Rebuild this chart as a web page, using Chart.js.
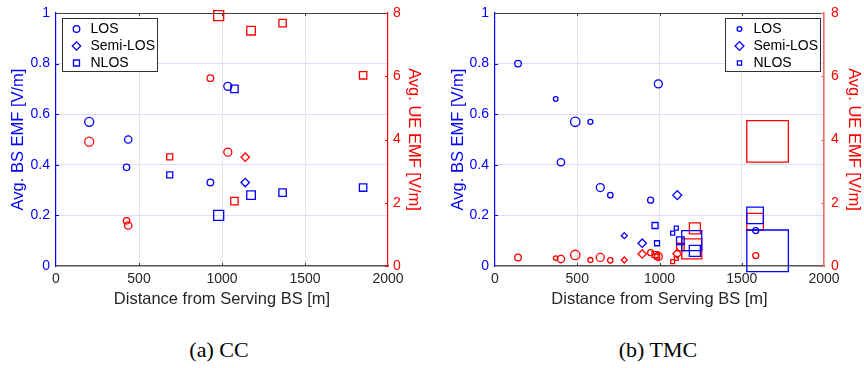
<!DOCTYPE html>
<html>
<head>
<meta charset="utf-8">
<script src="https://cdn.jsdelivr.net/npm/chart.js@4.4.0/dist/chart.umd.min.js"></script>
<style>
  body { margin: 0; background: #fff; width: 864px; height: 368px; position: relative; overflow: hidden; }
  .panel { position: absolute; top: 0; width: 432px; height: 320px; }
  .cap { position: absolute; top: 337px; width: 432px; line-height: 26px; text-align: center;
         font-family: "Liberation Serif", serif; font-size: 22px; color: #000; }
</style>
</head>
<body>
<div class="panel" style="left:0"><canvas id="cc"></canvas></div>
<div class="panel" style="left:432px"><canvas id="tmc"></canvas></div>
<div class="cap" style="left:3px">(a) CC</div>
<div class="cap" style="left:442px">(b) TMC</div>
<script>
const categories = ['LOS', 'Semi-LOS', 'NLOS'];
const xTicks = [0, 500, 1000, 1500, 2000];
const bsTicks = [0, 0.2, 0.4, 0.6, 0.8, 1];
const ueTicks = [0, 2, 4, 6, 8];

// (a) CC - distance [m], BS EMF [V/m], UE EMF [V/m], marker weight
const ccLosDist = [200, 425, 435, 930, 1035];
const ccLosBs = [0.57, 0.39, 0.50, 0.33, 0.71];
const ccLosUe = [3.93, 1.43, 1.28, 5.94, 3.60];
const ccLosW = [4.5, 3.2, 3.7, 3.3, 4.0];

const ccSemiDist = [1140];
const ccSemiBs = [0.33];
const ccSemiUe = [3.44];
const ccSemiW = [3.5];

const ccNlosDist = [685, 980, 1075, 1175, 1365, 1850];
const ccNlosBs = [0.36, 0.20, 0.70, 0.28, 0.29, 0.31];
const ccNlosUe = [3.45, 7.92, 2.05, 7.44, 7.68, 6.03];
const ccNlosW = [3.0, 5.0, 3.7, 4.3, 3.7, 3.7];

// (b) TMC
const tmcLosDist = [140, 369, 401, 488, 580, 640, 701, 946, 993, 1585];
const tmcLosBs = [0.80, 0.66, 0.41, 0.57, 0.57, 0.31, 0.28, 0.26, 0.72, 0.14];
const tmcLosUe = [0.27, 0.25, 0.22, 0.35, 0.19, 0.27, 0.18, 0.42, 0.30, 0.33];
const tmcLosW = [3.3, 2.3, 3.7, 4.7, 2.5, 4.0, 2.7, 3.0, 4.0, 3.0];

const tmcSemiDist = [786, 895, 1108];
const tmcSemiBs = [0.12, 0.09, 0.28];
const tmcSemiUe = [0.19, 0.38, 0.39];
const tmcSemiW = [2.5, 3.5, 3.7];

const tmcNlosDist = [973, 985, 1080, 1102, 1127, 1196, 1215, 1581, 1657];
const tmcNlosBs = [0.16, 0.09, 0.13, 0.15, 0.10, 0.10, 0.06, 0.20, 0.06];
const tmcNlosUe = [0.36, 0.30, 0.14, 0.24, 0.60, 0.54, 1.19, 1.40, 3.94];
const tmcNlosW = [3.0, 2.5, 2.0, 2.0, 3.8, 10.0, 5.5, 8.3, 20.8];

const BLUE = '#0000ff';
const RED = '#ff0000';
const FONT = 'Liberation Sans';
const styles = ['circle', 'rectRot', 'rect'];

function markerRadius(style, w) {
  if (style === 'rect') return w / Math.SQRT1_2;
  if (style === 'rectRot') return w * 1.2;
  return w;
}

function series(dist, vals, weight, style, color, axis) {
  const r = weight.map((w) => markerRadius(style, w));
  return {
    data: dist.map((d, i) => ({ x: d, y: vals[i] })),
    yAxisID: axis,
    pointStyle: style,
    pointRadius: r,
    pointHoverRadius: r,
    pointBorderColor: color,
    pointBackgroundColor: 'rgba(0,0,0,0)',
    pointBorderWidth: 1.3,
    showLine: false,
    clip: false,
  };
}

// no extra padding from labels: the plot box is set by the fixed axis sizes
function fixSize(key, val) {
  return (s) => {
    s[key] = val;
    s.paddingTop = 0;
    s.paddingBottom = 0;
    s.paddingLeft = 0;
    s.paddingRight = 0;
  };
}

const frame = {
  id: 'frame',
  beforeDatasetsDraw(chart, args, o) {
    const { ctx, chartArea: a, scales } = chart;
    ctx.save();
    ctx.strokeStyle = '#404040';
    ctx.lineWidth = 1;
    ctx.beginPath();
    ctx.moveTo(a.left, a.top + 0.5);
    ctx.lineTo(a.right, a.top + 0.5);
    // small inward ticks, matlab style
    xTicks.slice(1, -1).forEach((v) => {
      const px = Math.round(scales.x.getPixelForValue(v)) + 0.5;
      ctx.moveTo(px, a.bottom);
      ctx.lineTo(px, a.bottom - 3);
      ctx.moveTo(px, a.top);
      ctx.lineTo(px, a.top + 3);
    });
    ctx.stroke();
    ctx.strokeStyle = BLUE;
    ctx.beginPath();
    bsTicks.slice(1, -1).forEach((v) => {
      const py = Math.round(scales.y.getPixelForValue(v)) + 0.5;
      ctx.moveTo(a.left, py);
      ctx.lineTo(a.left + 3, py);
    });
    ctx.stroke();
    ctx.strokeStyle = o.axisRed;
    ctx.beginPath();
    ueTicks.forEach((v) => {
      const py = Math.round(scales.y1.getPixelForValue(v)) + 0.5;
      ctx.moveTo(a.right, py);
      ctx.lineTo(a.right - 3, py);
    });
    ctx.stroke();
    ctx.restore();
  },
  afterDraw(chart, args, o) {
    const ctx = chart.ctx;
    ctx.save();
    ctx.fillStyle = '#fff';
    ctx.fillRect(o.x, o.y, o.w, o.h);
    ctx.strokeStyle = '#303030';
    ctx.lineWidth = 1;
    ctx.strokeRect(o.x + 0.5, o.y + 0.5, o.w, o.h);
    ctx.font = '14px "' + FONT + '"';
    ctx.textBaseline = 'middle';
    categories.forEach((c, i) => {
      const y = o.y + 11 + i * 17;
      ctx.strokeStyle = BLUE;
      ctx.fillStyle = 'rgba(0,0,0,0)';
      ctx.lineWidth = 1.3;
      Chart.helpers.drawPoint(ctx, {
        pointStyle: styles[i],
        radius: markerRadius(styles[i], o.marks[i]),
        borderWidth: 1.3,
        rotation: 0,
      }, o.x + 14.5, y);
      ctx.fillStyle = '#000';
      ctx.fillText(c, o.x + 28.5, y + 0.5);
    });
    ctx.restore();
  },
};

function makeChart(id, datasets, g) {
  const tickFont = { family: FONT, size: 14 };
  const titleFont = { family: FONT, size: 16.5 };
  return new Chart(document.getElementById(id), {
    type: 'scatter',
    data: { datasets },
    options: {
      responsive: true,
      maintainAspectRatio: false,
      animation: false,
      events: [],
      layout: { autoPadding: false, padding: { top: 13, left: 0, right: 0, bottom: 0 } },
      plugins: {
        legend: { display: false },
        tooltip: { enabled: false },
        frame: Object.assign({ axisRed: g.rightBorder }, g.legend),
      },
      scales: {
        x: {
          type: 'linear',
          min: 0,
          max: 2000,
          afterBuildTicks: (s) => { s.ticks = xTicks.map((v) => ({ value: v })); },
          afterFit: fixSize('height', 54),
          ticks: { color: '#262626', font: tickFont, padding: 5, maxRotation: 0, autoSkip: false, callback: (v) => String(v) },
          grid: {
            drawTicks: false,
            color: (c) => (c.tick && (c.tick.value === 0 || c.tick.value === 2000)) ? 'rgba(0,0,0,0)' : '#e4e4e4',
          },
          border: { color: '#555', width: 1.5 },
          title: { display: true, text: 'Distance from Serving BS [m]', color: '#262626', font: titleFont, padding: { top: 0, bottom: 11 } },
        },
        y: {
          type: 'linear',
          position: 'left',
          min: 0,
          max: 1,
          afterBuildTicks: (s) => { s.ticks = bsTicks.map((v) => ({ value: v })); },
          afterFit: fixSize('width', g.leftW),
          ticks: { color: BLUE, font: tickFont, padding: 6, autoSkip: false, callback: (v) => String(+v.toFixed(1)) },
          grid: {
            drawTicks: false,
            color: (c) => (c.tick && (c.tick.value === 0 || c.tick.value === 1)) ? 'rgba(0,0,0,0)' : '#dcdcfd',
          },
          border: { color: BLUE, width: 1.2 },
          title: { display: true, text: 'Avg. BS EMF [V/m]', color: BLUE, font: titleFont, padding: { top: g.leftTitle, bottom: 0 } },
        },
        y1: {
          type: 'linear',
          position: 'right',
          min: 0,
          max: 8,
          afterBuildTicks: (s) => { s.ticks = ueTicks.map((v) => ({ value: v })); },
          afterFit: fixSize('width', g.rightW),
          ticks: { color: RED, font: tickFont, padding: g.rightPad, autoSkip: false, callback: (v) => String(v) },
          grid: { display: false, drawTicks: false },
          border: { color: g.rightBorder, width: g.rightBorderW },
          title: { display: true, text: 'Avg. UE EMF [V/m]', color: RED, font: titleFont, padding: { top: g.rightTitle, bottom: 0 } },
        },
      },
    },
    plugins: [frame],
  });
}

makeChart('cc', [
  series(ccLosDist, ccLosBs, ccLosW, 'circle', BLUE, 'y'),
  series(ccSemiDist, ccSemiBs, ccSemiW, 'rectRot', BLUE, 'y'),
  series(ccNlosDist, ccNlosBs, ccNlosW, 'rect', BLUE, 'y'),
  series(ccLosDist, ccLosUe, ccLosW, 'circle', RED, 'y1'),
  series(ccSemiDist, ccSemiUe, ccSemiW, 'rectRot', RED, 'y1'),
  series(ccNlosDist, ccNlosUe, ccNlosW, 'rect', RED, 'y1'),
], {
  leftW: 56, rightW: 44, leftTitle: 9, rightTitle: 9, rightPad: 5,
  rightBorder: RED, rightBorderW: 1.2,
  legend: { x: 62, y: 18, w: 95, h: 53, marks: [3.3, 3.5, 3] },
});

makeChart('tmc', [
  series(tmcLosDist, tmcLosBs, tmcLosW, 'circle', BLUE, 'y'),
  series(tmcSemiDist, tmcSemiBs, tmcSemiW, 'rectRot', BLUE, 'y'),
  series(tmcNlosDist, tmcNlosBs, tmcNlosW, 'rect', BLUE, 'y'),
  series(tmcLosDist, tmcLosUe, tmcLosW, 'circle', RED, 'y1'),
  series(tmcSemiDist, tmcSemiUe, tmcSemiW, 'rectRot', RED, 'y1'),
  series(tmcNlosDist, tmcNlosUe, tmcNlosW, 'rect', RED, 'y1'),
], {
  leftW: 63, rightW: 40, leftTitle: 16.5, rightTitle: 0.5, rightPad: 7,
  rightBorder: '#f26a6a', rightBorderW: 1.6,
  legend: { x: 293, y: 18, w: 95, h: 53, marks: [2.4, 3.7, 2.1] },
});
</script>
</body>
</html>
